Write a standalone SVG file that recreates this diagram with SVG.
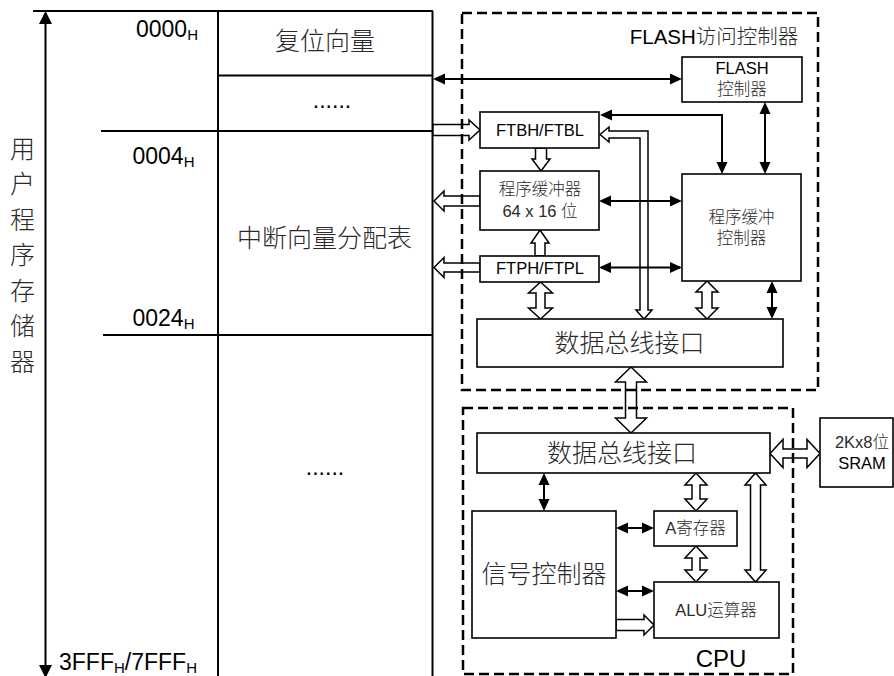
<svg xmlns="http://www.w3.org/2000/svg" width="894" height="676" viewBox="0 0 894 676">
<style>
.tl{stroke:#000;stroke-width:2;fill:none}
.box{fill:#fff;stroke:#000;stroke-width:1.6}
.dash{fill:none;stroke:#000;stroke-width:2.5;stroke-dasharray:10 5}
.pipe{fill:#fff;stroke:#000;stroke-width:1.5;stroke-linejoin:miter}
.ar{fill:none;stroke:#000;stroke-width:2;marker-start:url(#ah);marker-end:url(#ah)}
text{font-family:"Liberation Sans","Noto Sans CJK SC",sans-serif;fill:#000}
.cjk{font-family:"Liberation Sans","Noto Sans CJK SC",sans-serif;fill:#2a2a2a;font-weight:300}
.big{font-size:25px}
.sm{font-size:16.5px}
.lbl{font-size:23px}
.mid{text-anchor:middle}
</style>
<defs>
<marker id="ah" viewBox="0 0 12 12" refX="10" refY="6" markerWidth="12" markerHeight="12" markerUnits="userSpaceOnUse" orient="auto-start-reverse">
<path d="M0,0.5 L12,6 L0,11.5 z" fill="#000"/>
</marker>
<marker id="ahb" viewBox="0 0 14 14" refX="11" refY="7" markerWidth="14" markerHeight="14" markerUnits="userSpaceOnUse" orient="auto-start-reverse">
<path d="M0,0.5 L13,7 L0,13.5 z" fill="#000"/>
</marker>
</defs>

<g id="memory-map">
<line class="tl" x1="33" y1="11" x2="433" y2="11"/>
<line class="tl" x1="218" y1="11" x2="218" y2="676"/>
<line class="tl" x1="432.5" y1="11" x2="432.5" y2="676"/>
<line class="tl" x1="218" y1="75.5" x2="433" y2="75.5"/>
<line class="tl" x1="101" y1="131" x2="433" y2="131"/>
<line class="tl" x1="103" y1="335" x2="433" y2="335"/>
<line x1="45.5" y1="13" x2="45.5" y2="676" stroke="#000" stroke-width="2" marker-start="url(#ahb)" marker-end="url(#ahb)"/>
<text class="cjk big mid" x="22.5" y="157.6">用</text>
<text class="cjk big mid" x="22.5" y="193.1">户</text>
<text class="cjk big mid" x="22.5" y="228.6">程</text>
<text class="cjk big mid" x="22.5" y="264.1">序</text>
<text class="cjk big mid" x="22.5" y="299.6">存</text>
<text class="cjk big mid" x="22.5" y="335.1">储</text>
<text class="cjk big mid" x="22.5" y="370.6">器</text>
<text class="lbl" x="136" y="37">0000<tspan font-size="15" dy="3">H</tspan></text>
<text class="lbl" x="132.5" y="164">0004<tspan font-size="15" dy="3">H</tspan></text>
<text class="lbl" x="132.5" y="326">0024<tspan font-size="15" dy="3">H</tspan></text>
<text class="lbl" x="59" y="670">3FFF<tspan font-size="15" dy="3">H</tspan><tspan dy="-3">/7FFF</tspan><tspan font-size="15" dy="3">H</tspan></text>
<text class="cjk big mid" x="325" y="50">复位向量</text>
<text class="lbl mid" x="332" y="107.5">......</text>
<text class="cjk big mid" x="324.5" y="247">中断向量分配表</text>
<text class="lbl mid" x="325" y="474.5">......</text>
</g>

<g id="connectors">
<polygon class="pipe" points="433,124.5 469,124.5 469,120 480,130 469,140 469,135.5 433,135.5"/>
<polygon class="pipe" points="535.5,148 546.5,148 546.5,159 550,159 541,171 532,159 535.5,159"/>
<polygon class="pipe" points="480,196 444,196 444,191 434,201 444,211 444,206 480,206"/>
<polygon class="pipe" points="480,263 444,263 444,257.5 434,267.5 444,277.5 444,272 480,272"/>
<polygon class="pipe" points="540,230 549,243 545,243 545,256 535,256 535,243 531,243"/>
<polygon class="pipe" points="540.5,282 552.5,293 545,293 545,308 552.5,308 540.5,319 528.5,308 536,308 536,293 528.5,293"/>
<polygon class="pipe" points="600,134.5 609,127 609,131 648,131 648,310 652,310 644,319 636,310 640,310 640,138 609,138 609,142"/>
<polygon class="pipe" points="707,281 718,292 712,292 712,308 718,308 707,319 696,308 702,308 702,292 696,292"/>
<polygon class="pipe" points="631,367 646.5,382 636.5,382 636.5,418 646.5,418 631,433 615.5,418 625.5,418 625.5,382 615.5,382"/>
<polygon class="pipe" points="770,453.5 783,439.5 783,449 807,449 807,439.5 820,453.5 807,467.5 807,458 783,458 783,467.5"/>
<polygon class="pipe" points="696,473 707,485 700,485 700,499 707,499 696,511 685,499 692,499 692,485 685,485"/>
<polygon class="pipe" points="696,546 707,558 700,558 700,570 707,570 696,582 685,570 692,570 692,558 685,558"/>
<polygon class="pipe" points="755.5,473 766,485 760.5,485 760.5,570 766,570 755.5,582 745,570 750.5,570 750.5,485 745,485"/>
<polygon class="pipe" points="616,619.5 644,619.5 644,615 654,625 644,635 644,630.5 616,630.5"/>
<path class="ar" d="M435,79 H680"/>
<path class="ar" d="M602,115 H722 V172"/>
<path class="ar" d="M765,104 V172"/>
<path class="ar" d="M601,201 H680"/>
<path class="ar" d="M601,267.5 H680"/>
<path class="ar" d="M772,283 V317"/>
<path class="ar" d="M544,475 V509"/>
<path class="ar" d="M618,528 H652"/>
<path class="ar" d="M618,591 H652"/>
</g>

<g id="flash-ctrl">
<rect class="box" x="682" y="57" width="120" height="45"/>
<text class="sm mid" x="742" y="74">FLASH</text>
<text class="cjk sm mid" x="742" y="95">控制器</text>
</g>
<g id="ftbh">
<rect class="box" x="480" y="112" width="119" height="36"/>
<text class="sm mid" x="540" y="135.5">FTBH/FTBL</text>
</g>
<g id="prog-buffer">
<rect class="box" x="480" y="171" width="119" height="59"/>
<text class="cjk sm mid" x="540" y="194.5">程序缓冲器</text>
<text class="cjk sm mid" x="540" y="217">64 x 16 位</text>
</g>
<g id="ftph">
<rect class="box" x="480" y="256" width="119" height="26"/>
<text class="sm mid" x="540" y="273.5">FTPH/FTPL</text>
</g>
<g id="prog-buffer-ctrl">
<rect class="box" x="682" y="174" width="119" height="107"/>
<text class="cjk sm mid" x="741.5" y="222.5">程序缓冲</text>
<text class="cjk sm mid" x="741.5" y="244">控制器</text>
</g>
<g id="flash-bus">
<rect class="box" x="477" y="319" width="306" height="48"/>
<text class="cjk big mid" x="629.5" y="351.5">数据总线接口</text>
</g>
<g id="cpu-bus">
<rect class="box" x="477" y="433" width="293" height="40"/>
<text class="cjk big mid" x="622" y="462">数据总线接口</text>
</g>
<g id="sram">
<rect class="box" x="820" y="418" width="73" height="69"/>
<text class="cjk sm mid" x="862" y="448">2Kx8位</text>
<text class="sm mid" x="862" y="468.5">SRAM</text>
</g>
<g id="signal-ctrl">
<rect class="box" x="472" y="511" width="144" height="127"/>
<text class="cjk big mid" x="544" y="583">信号控制器</text>
</g>
<g id="a-reg">
<rect class="box" x="654" y="511" width="83" height="35"/>
<text class="cjk sm mid" x="695.5" y="534">A寄存器</text>
</g>
<g id="alu">
<rect class="box" x="654" y="582" width="125" height="56"/>
<text class="cjk sm mid" x="716" y="616">ALU运算器</text>
</g>

<g id="flash-access-group">
<rect class="dash" x="462" y="13" width="356" height="377"/>
<text x="714" y="43.5" font-size="20.5" class="mid">FLASH<tspan fill="#2a2a2a" font-weight="300">访问控制器</tspan></text>
</g>
<g id="cpu-group">
<rect class="dash" x="463" y="408" width="330" height="266"/>
<text x="721" y="667" font-size="24" class="mid">CPU</text>
</g>
</svg>
